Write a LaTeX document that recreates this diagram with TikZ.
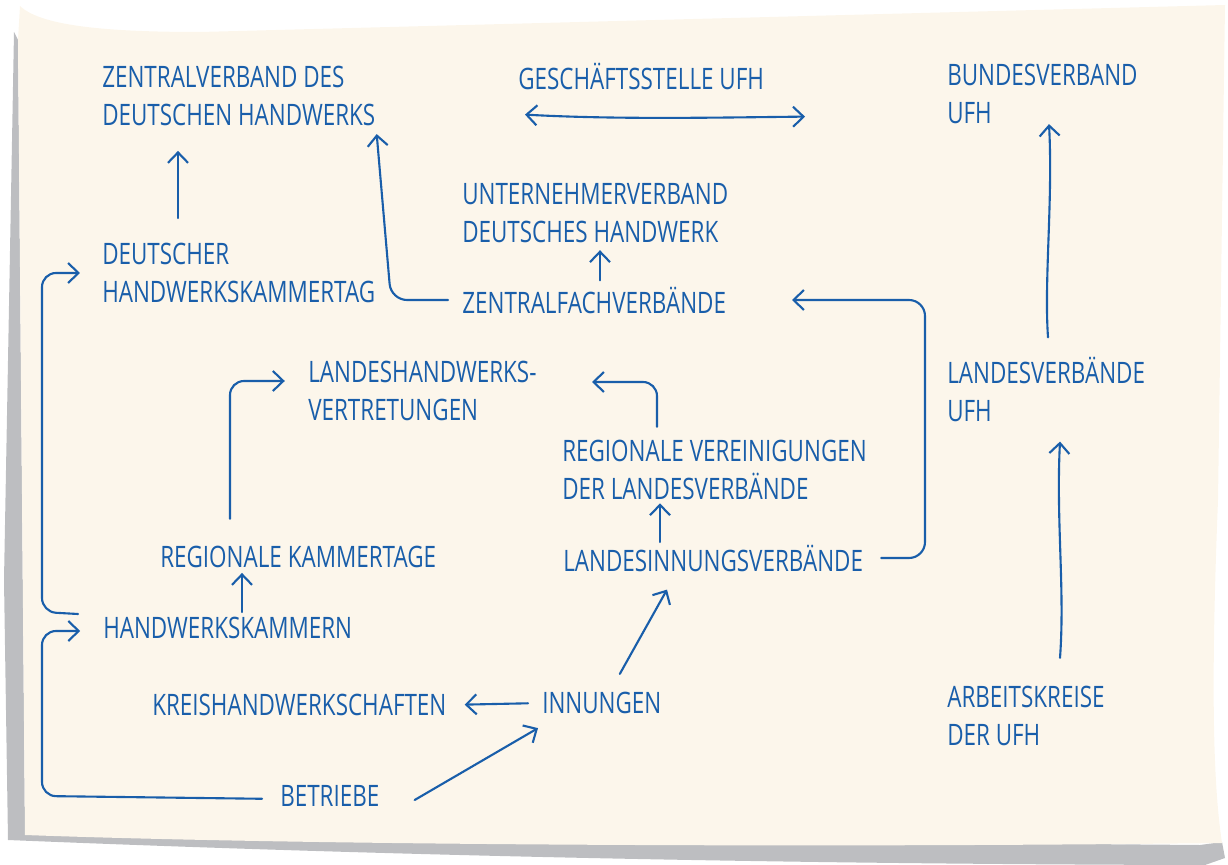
\documentclass[tikz,border=0pt]{standalone}
\usepackage{fontspec}
\setmainfont{Open Sans}[FakeStretch=0.76]
\usetikzlibrary{arrows.meta,calc}

\definecolor{ufhblue}{RGB}{25,94,170}
\definecolor{papier}{RGB}{252,246,235}
\definecolor{schatten}{RGB}{189,190,193}

\tikzset{
  eintrag/.style={anchor=west, align=left, inner sep=0pt, text=ufhblue,
    font=\fontsize{21}{27}\selectfont},
  pfeil/.style={draw=ufhblue, line width=1.5pt, line cap=round, line join=round,
    -{Straight Barb[length=2.6mm,width=5mm]}},
  doppelpfeil/.style={pfeil, {Straight Barb[length=2.6mm,width=5mm]}-{Straight Barb[length=2.6mm,width=5mm]}}
}

\begin{document}
\begin{tikzpicture}[x=0.025cm, y=-0.025cm]
  \useasboundingbox (0,0) rectangle (1228,865);

  % Blatt mit Schatten
  \fill[schatten] (14,32) -- (4,580) -- (8,840) .. controls (300,852) and (700,864) .. (1205,865)
    -- (1225,858) -- (1222,842) -- (1200,845) -- (25,835) -- (18,40) -- cycle;
  \fill[papier] (20,6) .. controls (40,25) and (100,32) .. (200,32) -- (1225,5)
    -- (1218,500) .. controls (1210,700) and (1214,790) .. (1222,843)
    .. controls (800,848) and (300,845) .. (25,835) -- (18,40) -- cycle;

  % Ebenen
  \node[eintrag] (zdh)   at (102,96)  {ZENTRALVERBAND DES\\DEUTSCHEN HANDWERKS};
  \node[eintrag] (gst)   at (518,76)  {GESCHÄFTSSTELLE UFH};
  \node[eintrag] (bv)    at (947,94)  {BUNDESVERBAND\\UFH};
  \node[eintrag] (dhkt)  at (102,273) {DEUTSCHER\\HANDWERKSKAMMERTAG};
  \node[eintrag] (udh)   at (462,213) {UNTERNEHMERVERBAND\\DEUTSCHES HANDWERK};
  \node[eintrag] (zfv)   at (462,300) {ZENTRALFACHVERBÄNDE};
  \node[eintrag] (lhv)   at (308,391) {LANDESHANDWERKS-\\VERTRETUNGEN};
  \node[eintrag] (lvufh) at (947,389) {LANDESVERBÄNDE\\UFH};
  \node[eintrag] (rv)    at (562,470) {REGIONALE VEREINIGUNGEN\\DER LANDESVERBÄNDE};
  \node[eintrag] (rkt)   at (160,557) {REGIONALE KAMMERTAGE};
  \node[eintrag] (liv)   at (563,558) {LANDESINNUNGSVERBÄNDE};
  \node[eintrag] (hwk)   at (103,628) {HANDWERKSKAMMERN};
  \node[eintrag] (kh)    at (152,705) {KREISHANDWERKSCHAFTEN};
  \node[eintrag] (inn)   at (542,703) {INNUNGEN};
  \node[eintrag] (ak)    at (947,716) {ARBEITSKREISE\\DER UFH};
  \node[eintrag] (betr)  at (280,796) {BETRIEBE};

  % Verbindungen
  \draw[pfeil, shorten <=0.62cm, shorten >=0.62cm] (178,0 |- dhkt.north) -- (178,0 |- zdh.south);
  \draw[pfeil, rounded corners=0.4cm, shorten <=0.35cm, shorten >=0.2cm]
    (zfv.west) -- (391,0 |- zfv.west) -- (376,0 |- zdh.south);
  \draw[pfeil, shorten <=0.15cm, shorten >=0.18cm] (600,0 |- zfv.north) -- (600,0 |- udh.south);
  \draw[doppelpfeil] ($(gst.south west)+(7,25)$) .. controls +(90,5) and +(-90,1) .. ($(805,0 |- gst.south)+(0,27)$);
  \draw[pfeil] ($(1048,0 |- lvufh.north)+(0,-19)$) .. controls (1044,280) and (1053,200) .. (1049,0 |- bv.south);
  \draw[pfeil] ($(1060,0 |- ak.north)+(0,-28)$) .. controls (1065,590) and (1056,520) .. ($(1060,0 |- lvufh.south)+(0,20)$);
  \draw[pfeil, rounded corners=0.4cm, shorten <=0.45cm]
    (liv.east) -- (925,0 |- liv.east) -- (925,0 |- zfv.east) -- (792,0 |- zfv.east);
  \draw[pfeil, shorten <=0.06cm, shorten >=0.08cm] (660,0 |- liv.north) -- (660,0 |- rv.south);
  \draw[pfeil, rounded corners=0.35cm]
    ($(657,0 |- rv.north)+(0,-13)$) -- ($(657,0 |- lhv.east)+(0,-9)$) -- ($(592,0 |- lhv.east)+(0,-9)$);
  \draw[pfeil, rounded corners=0.35cm, shorten >=0.58cm]
    ($(230,0 |- rkt.north)+(0,-27)$) -- ($(230,0 |- lhv.west)+(0,-10)$) -- ($(lhv.west)+(0,-10)$);
  \draw[pfeil, shorten <=0.12cm, shorten >=0.12cm] (242,0 |- hwk.north) -- (242,0 |- rkt.south);
  \draw[pfeil, rounded corners=0.35cm, shorten >=0.55cm]
    ($(hwk.west)+(-25,-14)$) -- ($(hwk.west)+(-61,-16)$) |- (dhkt.west);
  \draw[pfeil, rounded corners=0.35cm, shorten <=0.45cm, shorten >=0.57cm]
    ($(betr.west)+(0,3)$) -- (42,0 |- betr.west) |- ($(hwk.west)+(0,3)$);
  \draw[pfeil] ($(betr.east)+(35,4)$) -- ($(inn.south west)+(-4,14)$);
  \draw[pfeil, shorten <=0.35cm, shorten >=0.45cm] (inn.west) -- (kh.east);
  \draw[pfeil] ($(inn.north)+(18,-18)$) -- ($(liv.south west)+(104,18)$);
\end{tikzpicture}
\end{document}
